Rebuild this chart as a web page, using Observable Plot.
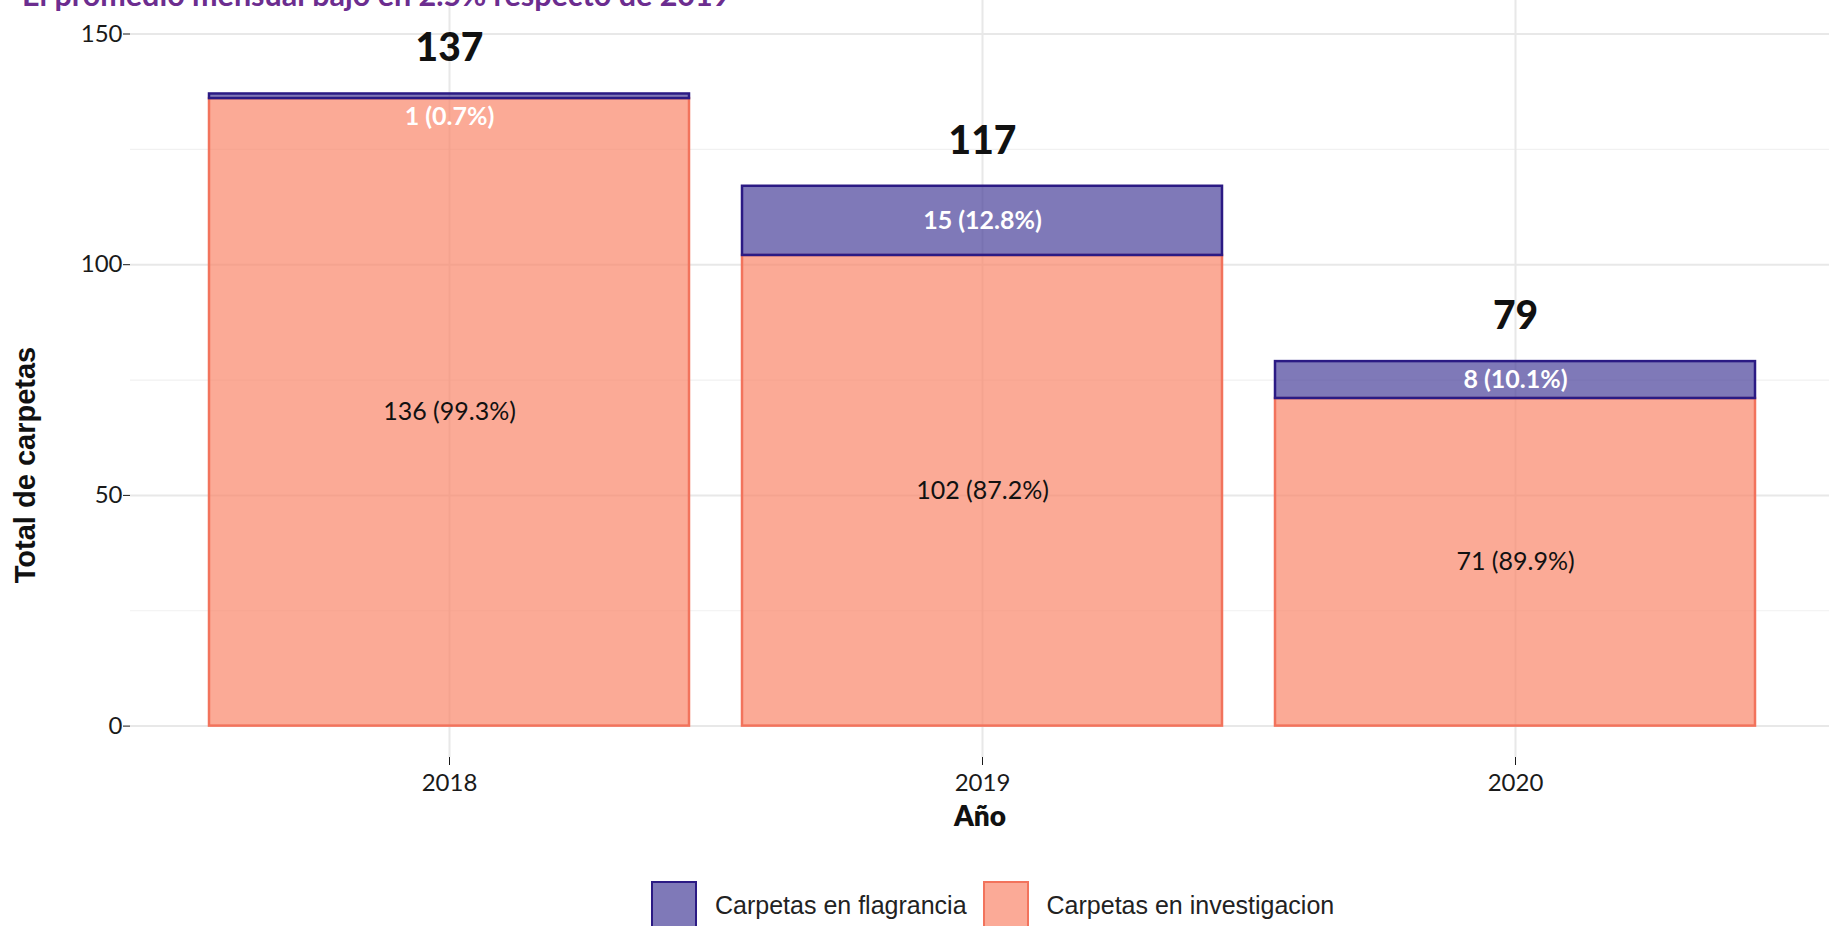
<!DOCTYPE html>
<html>
<head>
<meta charset="utf-8">
<script src="https://cdn.jsdelivr.net/npm/d3@7"></script>
<script src="https://cdn.jsdelivr.net/npm/@observablehq/plot@0.6"></script>
<style>
  html, body { margin: 0; padding: 0; background: #fff; }
  #wrap { position: relative; width: 1829px; height: 926px; overflow: hidden; }
  #title { position: absolute; left: 22px; top: -21px; font-family: Lato, sans-serif; font-weight: 700; font-size: 30.5px; line-height: 30.5px; color: #6C2D8F; white-space: nowrap; }
  #ytitle { position: absolute; left: 25px; top: 465px; transform: translate(-50%, -50%) rotate(-90deg); font-family: "Liberation Sans", Arial, sans-serif; font-weight: 700; font-size: 29px; line-height: 29px; color: #111; white-space: nowrap; }
  #legend { position: absolute; left: 651px; top: 881px; display: flex; align-items: center; font-family: "Liberation Sans", Arial, sans-serif; font-size: 25px; color: #222; }
  .sw { width: 42px; height: 44px; border: 2.5px solid; box-sizing: content-box; }
  .lab { margin-left: 18px; margin-right: 16px; }
</style>
</head>
<body>
<div id="wrap">
  <div id="chart"></div>
  <div id="title">El promedio mensual bajó en 2.5% respecto de 2019</div>
  <div id="ytitle">Total de carpetas</div>
  <div id="legend"></div>
</div>
<script>
const years = ["2018", "2019", "2020"];
const flagrancia = [1, 15, 8];
const investigacion = [136, 102, 71];
const seriesNames = ["Carpetas en flagrancia", "Carpetas en investigacion"];
const yTicks = [0, 50, 100, 150];
const yMinor = [25, 75, 125];

const fills = ["#48409A", "#F9866A"];
const strokes = ["#2B1A84", "#F2735C"];
const fillOpacity = 0.7;

const totals = years.map((y, i) => flagrancia[i] + investigacion[i]);
const pct = (v, t) => d3.format(".1f")(v / t * 100) + "%";

const rows = [];
years.forEach((y, i) => {
  rows.push({year: y, type: seriesNames[1], value: investigacion[i]});
  rows.push({year: y, type: seriesNames[0], value: flagrancia[i]});
});

const invLabels = years.map((y, i) => ({year: y, y: investigacion[i] / 2, text: `${investigacion[i]} (${pct(investigacion[i], totals[i])})`}));
const flagLabels = years.map((y, i) => ({year: y, y: flagrancia[i] < 3 ? totals[i] - 5 : investigacion[i] + flagrancia[i] / 2, text: `${flagrancia[i]} (${pct(flagrancia[i], totals[i])})`}));
const totLabels = years.map((y, i) => ({year: y, y: totals[i], text: String(totals[i])}));

const W = 1829, H = 860;
const plot = Plot.plot({
  width: W,
  height: H,
  marginTop: 0,
  marginBottom: 103,
  marginLeft: 130,
  marginRight: 0,
  style: {fontFamily: "Lato, sans-serif", fontSize: "24px", color: "#1a1a1a", background: "#fff"},
  x: {type: "band", domain: years, range: [129, 1835], paddingInner: 0.1, paddingOuter: 0.15, label: null},
  y: {domain: [0, 150], range: [725.6, 33.5], label: null},
  color: {domain: seriesNames, range: fills},
  marks: [
    Plot.ruleY(yMinor, {stroke: "#F1F1F1", strokeWidth: 1.2}),
    Plot.ruleY(yTicks, {stroke: "#E8E8E8", strokeWidth: 2}),
    Plot.ruleX(years, {x: d => d, stroke: "#E8E8E8", strokeWidth: 2}),
    Plot.barY(rows, {
      x: "year", y: "value", z: "type",
      fill: "type", fillOpacity: fillOpacity,
      stroke: d => strokes[seriesNames.indexOf(d.type)], strokeWidth: 2.5,
      order: [seriesNames[1], seriesNames[0]]
    }),
    Plot.text(invLabels, {x: "year", y: "y", text: "text", fill: "#111", fontSize: 25, fontFamily: "Lato, sans-serif"}),
    Plot.text(flagLabels, {x: "year", y: "y", text: "text", fill: "#fff", fontSize: 25, fontWeight: 700, fontFamily: "Lato, sans-serif"}),
    Plot.text(totLabels, {x: "year", y: "y", text: "text", fill: "#111", fontSize: 39, fontWeight: 900, fontFamily: "Lato, sans-serif", dy: -45}),
    Plot.axisY({ticks: yTicks, tickSize: 7, tickPadding: 1, fontSize: 24, label: null, color: "#1a1a1a"}),
    Plot.axisX({tickSize: 8, tickPadding: 8, fontSize: 24, label: null, color: "#1a1a1a"}),
    Plot.text(["Año"], {text: d => d, frameAnchor: "bottom", dy: 68, fontSize: 28, fontWeight: 800, fontFamily: "Lato, sans-serif", fill: "#111"})
  ]
});
document.getElementById("chart").appendChild(plot);

const legend = document.getElementById("legend");
seriesNames.forEach((name, i) => {
  const sw = document.createElement("div");
  sw.className = "sw";
  const mix = d3.interpolateRgb("#ffffff", fills[i])(fillOpacity);
  sw.style.background = mix;
  sw.style.borderColor = strokes[i];
  legend.appendChild(sw);
  const lab = document.createElement("span");
  lab.className = "lab";
  lab.textContent = name;
  legend.appendChild(lab);
});
</script>
</body>
</html>
